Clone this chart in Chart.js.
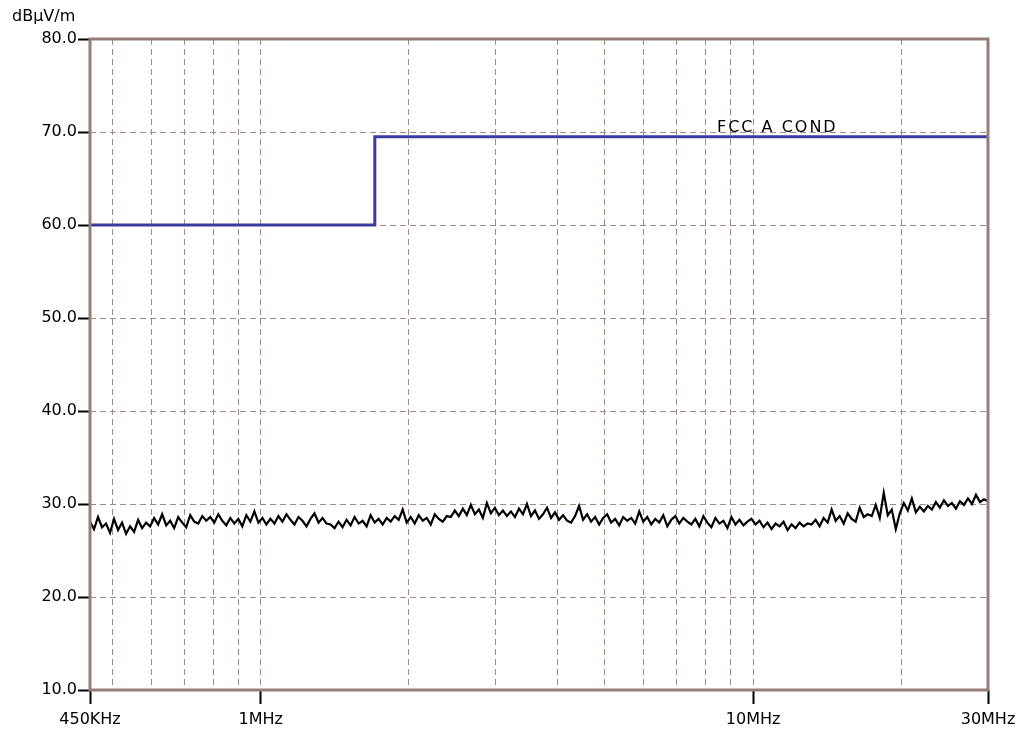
<!DOCTYPE html>
<html>
<head>
<meta charset="utf-8">
<script src="https://cdn.jsdelivr.net/npm/chart.js@4"></script>
<style>
  html, body { margin: 0; padding: 0; background: #fff; }
  #wrap { width: 1019px; height: 738px; }
</style>
</head>
<body>
<div id="wrap"><canvas id="emiChart"></canvas></div>
<script>
// units / names
const unitLabel = "dBµV/m";
const limitName = "FCC A COND";

// FCC class A conducted limit (MHz, dBµV)
const limitFreqs = [0.45, 1.705, 1.705, 30];
const limitLevels = [60, 60, 69.5, 69.5];

const sweepStart = 0.45;
const sweepStop = 30;
const noiseLevels = [
  28.1, 27.3, 28.6, 27.5, 27.9, 26.9, 28.4, 27.2, 28.0, 26.8, 27.6, 27.0, 28.3, 27.4, 28.0,
  27.6, 28.5, 27.8, 28.9, 27.7, 28.2, 27.4, 28.6, 28.0, 27.5, 28.8, 28.1, 27.9, 28.7, 28.2,
  28.6, 28.0, 28.9, 28.2, 27.7, 28.5, 27.9, 28.4, 27.6, 28.8, 28.1, 29.2, 28.0, 28.5, 27.8,
  28.4, 27.9, 28.7, 28.1, 28.9, 28.3, 27.8, 28.6, 28.2, 27.6, 28.4, 29.0, 28.0, 28.5, 27.9,
  27.8, 27.4, 28.1, 27.5, 28.3, 27.7, 28.6, 27.9, 28.2, 27.6, 28.8, 28.0, 28.4, 27.8, 28.5,
  28.1, 28.7, 28.3, 29.4, 28.0, 28.6, 27.9, 28.8, 28.2, 28.5, 27.8, 28.9, 28.4, 28.1, 28.7,
  28.6, 29.3, 28.7, 29.5, 28.8, 29.9, 28.9, 29.4, 28.5, 30.1, 29.0, 29.6, 28.8, 29.3, 28.7,
  29.2, 28.6, 29.5, 28.9, 30.0, 28.7, 29.3, 28.4, 28.9, 29.6, 28.5, 29.1, 28.3, 28.8, 28.2,
  28.0, 28.7, 29.8, 28.3, 28.9, 28.1, 28.6, 27.8, 28.5, 28.9, 28.0, 28.4, 27.7, 28.6, 28.2,
  28.5, 27.9, 29.2, 28.1, 28.6, 27.8, 28.4, 28.0, 28.8, 27.6, 28.3, 28.7, 27.9, 28.5, 28.1,
  27.8, 28.4, 27.6, 28.7, 28.0, 27.5, 28.5, 27.9, 28.2, 27.4, 28.6, 27.8, 28.3, 27.7, 28.1,
  28.4, 27.8, 28.2, 27.5, 28.0, 27.3, 27.9, 27.6, 28.1, 27.2, 27.8, 27.4, 28.0, 27.6, 27.9,
  27.8, 28.3, 27.6, 28.5, 28.0, 29.4, 28.2, 28.7, 27.9, 29.0, 28.4, 28.1, 29.6, 28.6, 28.9,
  28.7, 29.9, 28.5, 31.2, 28.8, 29.4, 27.3, 29.0, 30.1, 29.3, 30.6, 29.1, 29.7, 29.2, 29.8,
  29.4, 30.2, 29.6, 30.4, 29.8, 30.1, 29.5, 30.3, 29.9, 30.6, 30.0, 31.0, 30.2, 30.5, 30.3
];

// axes
const xTickValues = [0.45, 0.5, 0.6, 0.7, 0.8, 0.9, 1, 2, 3, 4, 5, 6, 7, 8, 9, 10, 20, 30];
const xTickLabels = { 0.45: "450KHz", 1: "1MHz", 10: "10MHz", 30: "30MHz" };
const yMin = 10, yMax = 80, yStep = 10;

const gridColor = "rgb(160,138,134)";
const frameColor = "rgb(150,126,120)";
const font = { family: "DejaVu Sans", size: 16 };

const sweepFreqs = noiseLevels.map((v, i) =>
  sweepStart * Math.pow(sweepStop / sweepStart, i / (noiseLevels.length - 1)));

const textPlugin = {
  id: "texts",
  afterDraw(chart) {
    const ctx = chart.ctx;
    const area = chart.chartArea;
    const xs = chart.scales.x, ys = chart.scales.y;
    ctx.save();
    // frame
    ctx.strokeStyle = frameColor;
    ctx.lineWidth = 3;
    ctx.strokeRect(area.left, area.top, area.right - area.left, area.bottom - area.top);
    // unit
    ctx.fillStyle = "#000";
    ctx.font = "16px 'DejaVu Sans'";
    ctx.textAlign = "left";
    ctx.textBaseline = "alphabetic";
    ctx.fillText(unitLabel, 12, 21);
    // limit name
    ctx.letterSpacing = "2px";
    ctx.textAlign = "center";
    ctx.fillText(limitName, xs.getPixelForValue(11.2), ys.getPixelForValue(limitLevels[3]) - 5);
    ctx.restore();
  }
};

new Chart(document.getElementById("emiChart"), {
  type: "line",
  data: {
    datasets: [
      {
        label: limitName,
        data: limitFreqs.map((f, i) => ({ x: f, y: limitLevels[i] })),
        borderColor: "rgb(58,58,160)",
        borderWidth: 3,
        pointRadius: 0,
        tension: 0
      },
      {
        label: "trace",
        data: sweepFreqs.map((f, i) => ({ x: f, y: noiseLevels[i] })),
        borderColor: "#000",
        borderWidth: 2.2,
        pointRadius: 0,
        tension: 0
      }
    ]
  },
  options: {
    responsive: true,
    maintainAspectRatio: false,
    animation: false,
    layout: { padding: { left: 0, right: 31, top: 39, bottom: 0 } },
    plugins: { legend: { display: false }, tooltip: { enabled: false } },
    scales: {
      x: {
        type: "logarithmic",
        min: sweepStart,
        max: sweepStop,
        afterBuildTicks: (scale) => { scale.ticks = xTickValues.map(v => ({ value: v })); },
        afterFit: (scale) => { scale.height = 48; scale.paddingRight = 0; scale.paddingLeft = 0; },
        border: { display: false, dash: [6, 4] },
        grid: {
          color: (c) => (c.tick && (c.tick.value === sweepStart || c.tick.value === sweepStop)) ? "rgba(0,0,0,0)" : gridColor,
          lineWidth: 1,
          tickLength: 14,
          tickColor: (c) => (c.tick && xTickLabels[c.tick.value]) ? "#000" : "rgba(0,0,0,0)",
          tickWidth: 2,
          tickBorderDash: []
        },
        ticks: {
          autoSkip: false,
          maxRotation: 0,
          padding: 6,
          color: "#000",
          font: font,
          callback: (v) => xTickLabels[v] || ""
        }
      },
      y: {
        min: yMin,
        max: yMax,
        afterFit: (scale) => { scale.width = 90; },
        border: { display: false, dash: [6, 4] },
        grid: {
          color: (c) => (c.tick && (c.tick.value === yMin || c.tick.value === yMax)) ? "rgba(0,0,0,0)" : gridColor,
          lineWidth: 1,
          tickLength: 12,
          tickColor: "#000",
          tickWidth: 2,
          tickBorderDash: []
        },
        ticks: {
          stepSize: yStep,
          padding: 1,
          color: "#000",
          font: font,
          callback: (v) => v.toFixed(1)
        }
      }
    }
  },
  plugins: [textPlugin]
});
</script>
</body>
</html>
